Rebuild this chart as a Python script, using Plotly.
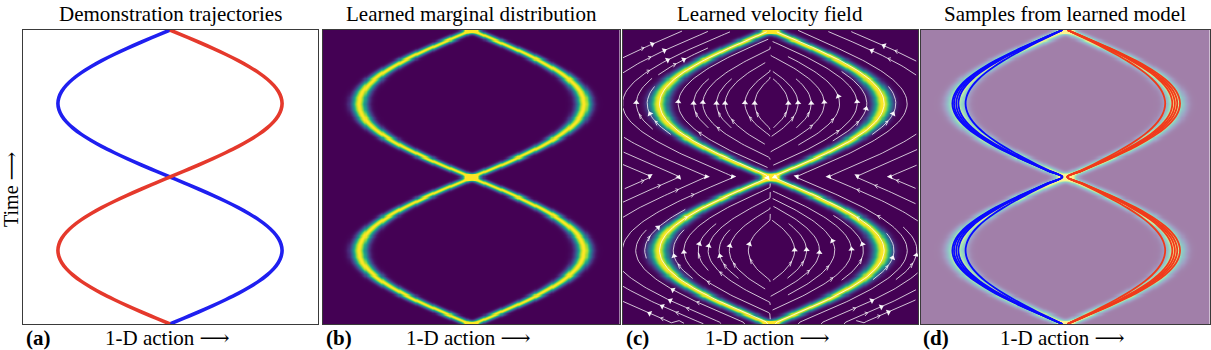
import math
import numpy as np
import plotly.graph_objects as go
import plotly.figure_factory as ff

# ---------------- data ----------------
# time keypoints, tau = 0 at bottom, 1 at top (regular sampling grid)
tau_keys = np.linspace(0.0, 1.0, 49)
# 1-D action of the blue demonstration at each keypoint (axis spans -1..1)
blue_keys = [0.000, 0.099, 0.197, 0.291, 0.380, 0.463, 0.537, 0.603, 0.658, 0.702,
             0.734, 0.753, 0.760, 0.753, 0.734, 0.702, 0.658, 0.603, 0.537, 0.463,
             0.380, 0.291, 0.197, 0.099, 0.000, -0.099, -0.197, -0.291, -0.380, -0.463,
             -0.537, -0.603, -0.658, -0.702, -0.734, -0.753, -0.760, -0.753, -0.734, -0.702,
             -0.658, -0.603, -0.537, -0.463, -0.380, -0.291, -0.197, -0.099, 0.000]
# red demonstration is the mirror image
red_keys = [-v for v in blue_keys]

# samples from the learned model: amplitude scale of each sampled path
blue_sample_scales = [1.0, 0.985, 0.965, 0.945, 0.88]
red_sample_scales = [1.025, 1.0, 0.978, 0.955, 0.89]
sample_gap = 0.02

titles = ["Demonstration trajectories", "Learned marginal distribution",
          "Learned velocity field", "Samples from learned model"]
panel_tags = ["(a)", "(b)", "(c)", "(d)"]
xlabel = "1-D action \u27f6"
ylabel = "Time \u27f6"

BLUE = "#1f1ff0"
RED = "#e5392c"
SIGMA_B = 0.035
SIGMA_C = 0.043

# ---------------- derived fields ----------------
xg = np.linspace(-1, 1, 280)
tg = np.linspace(0, 1, 280)
xb = np.interp(tg, tau_keys, blue_keys)
xr = np.interp(tg, tau_keys, red_keys)
X = xg[None, :]


def density(sig):
    z = np.exp(-(X - xb[:, None]) ** 2 / (2 * sig ** 2)) + np.exp(-(X - xr[:, None]) ** 2 / (2 * sig ** 2))
    return np.round(z, 4)


Zb = density(SIGMA_B)
Zc = density(SIGMA_C)

# velocity field (dx/dtau, 1): posterior-weighted demo velocities
nf = 120
xs = np.linspace(-1, 1, nf)
ts = np.linspace(0, 1, nf)
xbf = np.interp(ts, tau_keys, blue_keys)
xrf = np.interp(ts, tau_keys, red_keys)
vbf = np.gradient(xbf, ts)
vrf = np.gradient(xrf, ts)
s = 0.03
lb = -(xs[None, :] - xbf[:, None]) ** 2 / (2 * s ** 2)
lr = -(xs[None, :] - xrf[:, None]) ** 2 / (2 * s ** 2)
m = np.maximum(lb, lr)
wb = np.exp(lb - m)
wr = np.exp(lr - m)
U = (wb * vbf[:, None] + wr * vrf[:, None]) / (wb + wr)
V = np.ones_like(U)

sfig = ff.create_streamline(xs, ts, U, V, density=1.35, arrow_scale=0.02)
st = sfig.data[0]
sx = list(st.x)
sy = list(st.y)


def is_gap(v):
    if v is None:
        return True
    try:
        return math.isnan(float(v))
    except (TypeError, ValueError):
        return True


# split streamlines and get arrow positions at their midpoints
lines = []
cur = []
for a, b in zip(sx, sy):
    if is_gap(a) or is_gap(b):
        if cur:
            lines.append(cur)
        cur = []
    else:
        cur.append((float(a), float(b)))
if cur:
    lines.append(cur)

PXX = 295 / 2.0
PXY = 294 / 1.0
ax_x, ax_y, ax_ang = [], [], []
for ln in lines:
    if len(ln) < 6:
        continue
    k = len(ln) // 2
    x0, y0 = ln[k - 1]
    x1, y1 = ln[k + 1]
    dxp = (x1 - x0) * PXX
    dyp = (y1 - y0) * PXY
    if dxp == 0 and dyp == 0:
        continue
    ax_x.append(ln[k][0])
    ax_y.append(ln[k][1])
    ax_ang.append(float(np.degrees(np.arctan2(dxp, dyp))))

# ---------------- figure ----------------
W, H = 1211, 350
px_x = [(22.5, 317.5), (323, 619.5), (622.5, 918), (920.5, 1210)]
y_top, y_bot = 30, 324
ydom = [(H - y_bot) / H, (H - y_top) / H]

fig = go.Figure()

def ax(i):
    return ("x" if i == 0 else f"x{i+1}"), ("y" if i == 0 else f"y{i+1}")

# panel a
xa, ya = ax(0)
fig.add_trace(go.Scatter(x=blue_keys, y=tau_keys, mode="lines", line=dict(color=BLUE, width=3.6, shape="spline"),
                         xaxis=xa, yaxis=ya, showlegend=False, hoverinfo="skip"))
fig.add_trace(go.Scatter(x=red_keys, y=tau_keys, mode="lines", line=dict(color=RED, width=3.6, shape="spline"),
                         xaxis=xa, yaxis=ya, showlegend=False, hoverinfo="skip"))

# heatmaps b, c, d
for i, z, op in [(1, Zb, 1.0), (2, Zc, 1.0), (3, Zc, 0.5)]:
    xa, ya = ax(i)
    fig.add_trace(go.Heatmap(x=xg, y=tg, z=z, colorscale="Viridis", zmin=0, zmax=1.0,
                             showscale=False, zsmooth="best", opacity=op, xaxis=xa, yaxis=ya,
                             hoverinfo="skip"))

# streamlines c
xa, ya = ax(2)
fig.add_trace(go.Scatter(x=sx, y=sy, mode="lines", line=dict(color="rgba(255,255,255,0.85)", width=0.9),
                         xaxis=xa, yaxis=ya, showlegend=False, hoverinfo="skip"))
fig.add_trace(go.Scatter(x=ax_x, y=ax_y, mode="markers",
                         marker=dict(symbol="triangle-up", size=5.5, color="rgba(255,255,255,0.95)",
                                     angle=ax_ang, line=dict(width=0)),
                         xaxis=xa, yaxis=ya, showlegend=False, hoverinfo="skip"))

# samples d
xa, ya = ax(3)
abs_keys = [abs(v) for v in blue_keys]
for sc in blue_sample_scales:
    fig.add_trace(go.Scatter(x=[-(sample_gap + sc * a) for a in abs_keys], y=tau_keys, mode="lines",
                             line=dict(color="#0a0aff", width=1.8, shape="spline"),
                             xaxis=xa, yaxis=ya, showlegend=False, hoverinfo="skip"))
for sc in red_sample_scales:
    fig.add_trace(go.Scatter(x=[(sample_gap * 0.7 + sc * a) for a in abs_keys], y=tau_keys, mode="lines",
                             line=dict(color="#f03a1c", width=1.8, shape="spline"),
                             xaxis=xa, yaxis=ya, showlegend=False, hoverinfo="skip"))

layout = dict(width=W, height=H, margin=dict(l=0, r=0, t=0, b=0), paper_bgcolor="white",
              plot_bgcolor="white", showlegend=False)
for i in range(4):
    xn = "xaxis" if i == 0 else f"xaxis{i+1}"
    yn = "yaxis" if i == 0 else f"yaxis{i+1}"
    xa, ya = ax(i)
    layout[xn] = dict(domain=[px_x[i][0] / W, px_x[i][1] / W], range=[-1, 1], anchor=ya,
                      showticklabels=False, ticks="", showgrid=False, zeroline=False,
                      showline=True, mirror=True, linecolor="#3a3a3a", linewidth=1, fixedrange=True)
    layout[yn] = dict(domain=ydom, range=[0, 1], anchor=xa,
                      showticklabels=False, ticks="", showgrid=False, zeroline=False,
                      showline=True, mirror=True, linecolor="#3a3a3a", linewidth=1, fixedrange=True)
fig.update_layout(**layout)

SERIF = "Liberation Serif, DejaVu Serif, serif"
ann = []
for i in range(4):
    cx = (px_x[i][0] + px_x[i][1]) / 2 / W
    ann.append(dict(text=titles[i], x=cx, y=1 - 14 / H, xref="paper", yref="paper",
                    xanchor="center", yanchor="middle", showarrow=False,
                    font=dict(family=SERIF, size=21, color="black")))
    ann.append(dict(text=xlabel, x=cx - 3 / W, y=1 - 338 / H, xref="paper", yref="paper",
                    xanchor="center", yanchor="middle", showarrow=False,
                    font=dict(family=SERIF, size=21, color="black")))
    ann.append(dict(text="<b>" + panel_tags[i] + "</b>", x=(px_x[i][0] + 1) / W, y=1 - 338 / H,
                    xref="paper", yref="paper", xanchor="left", yanchor="middle", showarrow=False,
                    font=dict(family=SERIF, size=21, color="black")))
ann.append(dict(text=ylabel, x=11 / W, y=1 - 190 / H, xref="paper", yref="paper",
                xanchor="center", yanchor="middle", textangle=-90, showarrow=False,
                font=dict(family=SERIF, size=20, color="black")))
fig.update_layout(annotations=ann)

fig.write_html("out.html")
